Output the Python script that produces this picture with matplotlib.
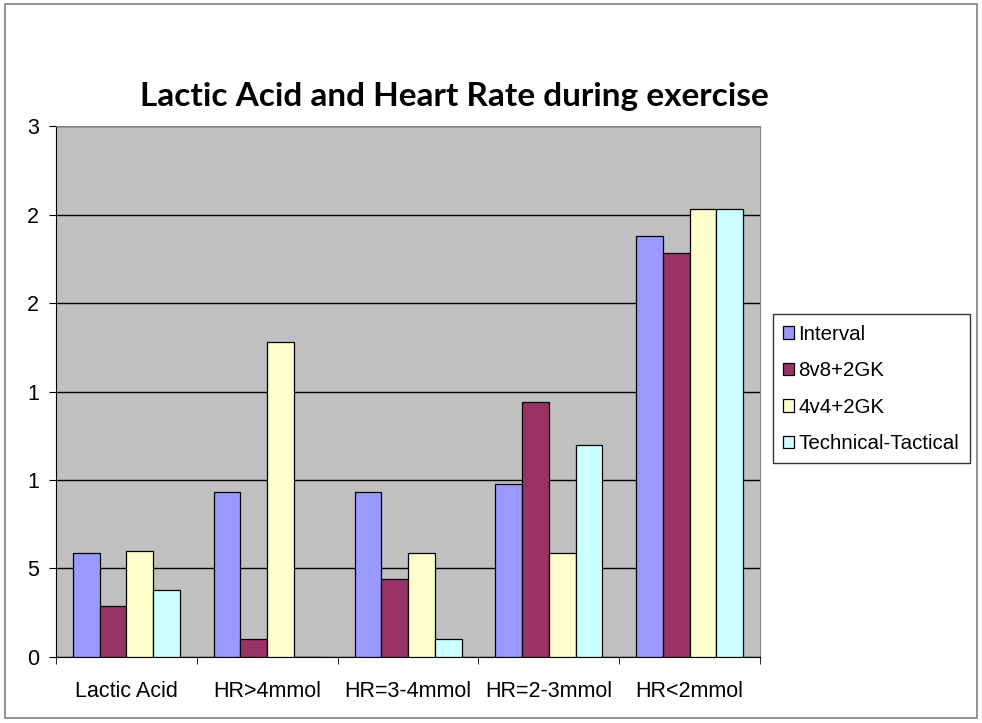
import numpy as np
import matplotlib
matplotlib.use("Agg")
import matplotlib.pyplot as plt
from matplotlib.ticker import FixedLocator, FixedFormatter
from matplotlib.patches import Rectangle

categories = ["Lactic Acid", "HR>4mmol", "HR=3-4mmol", "HR=2-3mmol", "HR<2mmol"]
series_names = ["Interval", "8v8+2GK", "4v4+2GK", "Technical-Tactical"]
interval = [0.59, 0.93, 0.93, 0.98, 2.38]
v8 = [0.29, 0.10, 0.44, 1.44, 2.28]
v4 = [0.60, 1.78, 0.59, 0.59, 2.53]
tech = [0.38, 0.0, 0.10, 1.20, 2.53]
y_ticks = [0, 0.5, 1, 1.5, 2, 2.5, 3]
y_tick_labels = ["0", "5", "1", "1", "2", "2", "3"]
colors = ["#9999FF", "#993366", "#FFFFCC", "#CCFFFF"]

plt.rcParams['font.family'] = ['Liberation Sans', 'DejaVu Sans']

fig = plt.figure(figsize=(9.82, 7.23), dpi=100)
fig.patches.append(Rectangle((0.005, 0.007), 0.99, 0.987, transform=fig.transFigure,
                             fill=False, edgecolor="#808080", linewidth=1.2))

ax = fig.add_axes([0.057, 0.0913, 0.717, 0.7344])
ax.set_facecolor("#C0C0C0")

x = np.arange(len(categories))
w = 0.19
all_series = [interval, v8, v4, tech]
for i, (vals, name) in enumerate(zip(all_series, series_names)):
    ax.bar(x + (i - 1.5) * w, vals, w, color=colors[i], edgecolor="black",
           linewidth=0.9, label=name, zorder=3)

ax.set_xlim(-0.5, len(categories) - 0.5)
ax.set_ylim(0, 3)
ax.yaxis.set_major_locator(FixedLocator(y_ticks))
ax.yaxis.set_major_formatter(FixedFormatter(y_tick_labels))
ax.grid(axis="y", color="black", linewidth=1.0, zorder=1)
ax.set_axisbelow(True)

ax.set_xticks(x)
ax.set_xticklabels(categories, fontsize=15.5)
ax.set_xticks(np.arange(len(categories) + 1) - 0.5, minor=True)
ax.tick_params(axis="x", which="major", length=0, pad=17)
ax.tick_params(axis="x", which="minor", length=5, direction="out", color="black")
ax.tick_params(axis="y", length=5, direction="out", labelsize=15.5, pad=7)

for s in ["top", "right"]:
    ax.spines[s].set_color("#808080")
ax.spines["left"].set_color("black")
ax.spines["bottom"].set_color("black")

fig.text(0.463, 0.866, "Lactic Acid and Heart Rate during exercise",
         ha="center", va="center", fontsize=24, fontweight="bold",
         family=["Lato", "DejaVu Sans"])

leg = fig.legend(loc="center left", bbox_to_anchor=(0.787, 0.462), fontsize=14.8,
                 frameon=True, fancybox=False, edgecolor="black",
                 handlelength=0.55, handleheight=0.55, handletextpad=0.2,
                 labelspacing=0.85, borderpad=0.5, borderaxespad=0)
leg.get_frame().set_linewidth(1.0)

fig.savefig("out.png", dpi=100)
